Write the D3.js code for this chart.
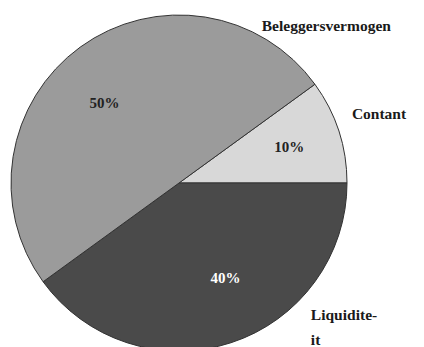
<!DOCTYPE html>
<html><head><meta charset="utf-8">
<script src="https://cdn.jsdelivr.net/npm/d3@7"></script>
<style>html,body{margin:0;padding:0;background:#fff;}</style>
</head><body>
<svg id="c" width="424" height="347"></svg>
<script>
const categories = ["Contant", "Liquiditeit", "Beleggersvermogen"];
const values = [10, 40, 50];
const pctLabels = ["10%", "40%", "50%"];
const outerLabels = [["Contant"], ["Liquidite-", "it"], ["Beleggersvermogen"]];
const colors = ["#d8d8d8", "#4a4a4a", "#9b9b9b"];
const pctColors = ["#222", "#fff", "#222"];

const svg = d3.select("#c");
const cx = 179, cy = 183, r = 168;
const g = svg.append("g").attr("transform", `translate(${cx},${cy})`);

const deg = Math.PI / 180;
const start = 54 * deg;
const pie = d3.pie().sort(null).value(d => d).startAngle(start).endAngle(start + 2 * Math.PI);
const arcs = pie(values);
const arc = d3.arc().innerRadius(0).outerRadius(r);

g.selectAll("path").data(arcs).join("path")
  .attr("d", arc)
  .attr("fill", (d, i) => colors[i])
  .attr("stroke", "#333").attr("stroke-width", 1);

// percentage labels: [angle offset from slice middle (deg), radius fraction]
const pctPos = [[0, 0.69], [-8, 0.63], [-7, 0.65]];
g.selectAll("text.pct").data(arcs).join("text")
  .attr("class", "pct")
  .attr("transform", (d, i) => {
    const a = (d.startAngle + d.endAngle) / 2 + pctPos[i][0] * deg;
    const rr = r * pctPos[i][1];
    return `translate(${Math.sin(a) * rr},${-Math.cos(a) * rr})`;
  })
  .attr("text-anchor", "middle").attr("dy", "0.35em")
  .attr("font-family", "Liberation Serif, serif").attr("font-weight", "bold")
  .attr("font-size", 15)
  .attr("fill", (d, i) => pctColors[i])
  .text((d, i) => pctLabels[i]);

// outer labels: [angle (deg, clockwise from 12 o'clock), radius fraction]
const outerPos = [[68, 1.11], [135, 1.11], [27.7, 1.06]];
outerPos.forEach((p, i) => {
  const a = p[0] * deg, rr = r * p[1];
  const x = Math.sin(a) * rr;
  const y = -Math.cos(a) * rr;
  const t = g.append("text")
    .attr("x", x).attr("y", y)
    .attr("text-anchor", "start")
    .attr("font-family", "Liberation Serif, serif").attr("font-weight", "bold")
    .attr("font-size", 15.5).attr("fill", "#1a1a1a");
  outerLabels[i].forEach((line, j) => {
    t.append("tspan").attr("x", x).attr("dy", j === 0 ? "0.35em" : "1.6em").text(line);
  });
});
</script>
</body></html>
